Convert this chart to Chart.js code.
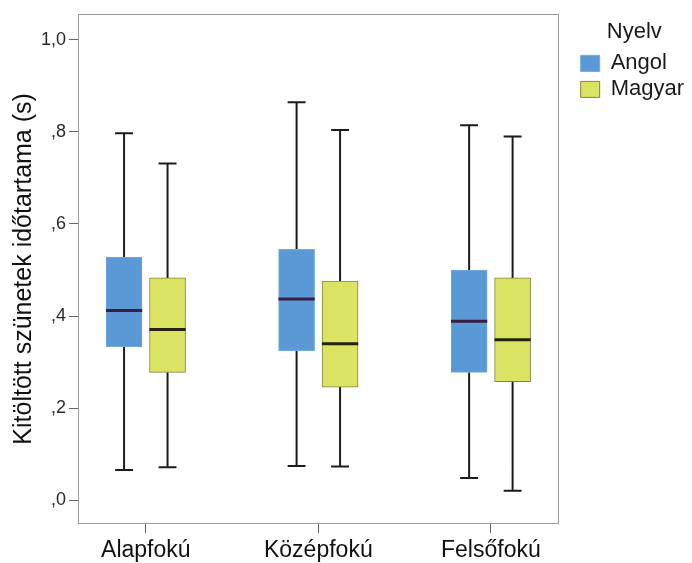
<!DOCTYPE html>
<html lang="hu">
<head>
<meta charset="utf-8">
<title>Kitöltött szünetek időtartama</title>
<script src="https://cdn.jsdelivr.net/npm/chart.js@4/dist/chart.umd.min.js"></script>
<style>
  html, body { margin: 0; padding: 0; background: #ffffff; }
  #wrap { width: 692px; height: 563px; }
</style>
</head>
<body>
<div id="wrap"><canvas id="chart" width="692" height="563"></canvas></div>
<script>
// Educational level groups on the x axis
const categories = ['Alapfokú', 'Középfokú', 'Felsőfokú'];

// Five-number summaries per language (seconds)
const angolMin    = [0.066, 0.075, 0.049];
const angolQ1     = [0.334, 0.325, 0.278];
const angolMedian = [0.412, 0.437, 0.389];
const angolQ3     = [0.528, 0.545, 0.500];
const angolMax    = [0.797, 0.864, 0.814];

const magyarMin    = [0.072, 0.074, 0.021];
const magyarQ1     = [0.278, 0.246, 0.258];
const magyarMedian = [0.371, 0.340, 0.349];
const magyarQ3     = [0.483, 0.476, 0.483];
const magyarMax    = [0.731, 0.804, 0.790];

// Value axis ticks and their labels
const yTicks      = [0, 0.2, 0.4, 0.6, 0.8, 1.0];
const yTickLabels = [',0', ',2', ',4', ',6', ',8', '1,0'];

// Layout in x-axis units (one unit = distance between groups)
const BOX_OFFSET = 0.126;
const HALF_BOX   = 0.105;
const HALF_CAP   = 0.052;

const FONT = "'Liberation Sans', Arial, Helvetica, sans-serif";
Chart.defaults.font.family = FONT;

const series = [
  { name: 'Angol',  min: angolMin,  q1: angolQ1,  med: angolMedian,  q3: angolQ3,  max: angolMax,
    fill: '#5a99d6', edge: '#74aade', medColor: '#3a1e42', shift: -BOX_OFFSET },
  { name: 'Magyar', min: magyarMin, q1: magyarQ1, med: magyarMedian, q3: magyarQ3, max: magyarMax,
    fill: '#dae462', edge: '#85853e', medColor: '#24230f', shift: BOX_OFFSET }
];

const gap = (x) => ({ x: x, y: null });

function whiskerPoints(s) {
  const pts = [];
  categories.forEach((c, i) => {
    const x = i + s.shift;
    pts.push({ x: x, y: s.q3[i] }, { x: x, y: s.max[i] }, gap(x));
    pts.push({ x: x - HALF_CAP, y: s.max[i] }, { x: x + HALF_CAP, y: s.max[i] }, gap(x));
    pts.push({ x: x, y: s.q1[i] }, { x: x, y: s.min[i] }, gap(x));
    pts.push({ x: x - HALF_CAP, y: s.min[i] }, { x: x + HALF_CAP, y: s.min[i] }, gap(x));
  });
  return pts;
}

function medianPoints(s) {
  const pts = [];
  categories.forEach((c, i) => {
    const x = i + s.shift;
    pts.push({ x: x - HALF_BOX, y: s.med[i] }, { x: x + HALF_BOX, y: s.med[i] }, gap(x));
  });
  return pts;
}

const datasets = [];
series.forEach((s) => {
  datasets.push({
    type: 'bar',
    label: s.name,
    data: categories.map((c, i) => ({ x: i + s.shift, y: [s.q1[i], s.q3[i]] })),
    backgroundColor: s.fill,
    borderColor: s.edge,
    borderWidth: 1,
    borderSkipped: false,
    barThickness: 36,
    grouped: false,
    order: 2
  });
});
series.forEach((s) => {
  datasets.push({
    type: 'line',
    label: s.name + ' terjedelem',
    data: whiskerPoints(s),
    borderColor: '#1c1c1c',
    borderWidth: 2,
    pointRadius: 0,
    spanGaps: false,
    fill: false,
    order: 3
  });
  datasets.push({
    type: 'line',
    label: s.name + ' medián',
    data: medianPoints(s),
    borderColor: s.medColor,
    borderWidth: 3,
    pointRadius: 0,
    spanGaps: false,
    fill: false,
    order: 0
  });
});

// Thin grey frame around the plotting area
const framePlugin = {
  id: 'plotFrame',
  beforeDatasetsDraw(chart) {
    const a = chart.chartArea;
    const ctx = chart.ctx;
    ctx.save();
    ctx.strokeStyle = '#9a9a9a';
    ctx.lineWidth = 1;
    ctx.strokeRect(Math.round(a.left) + 0.5, Math.round(a.top) + 0.5,
                   Math.round(a.right - a.left) - 1, Math.round(a.bottom - a.top) - 1);
    ctx.restore();
  }
};

new Chart(document.getElementById('chart'), {
  type: 'bar',
  data: { datasets: datasets },
  plugins: [framePlugin],
  options: {
    responsive: false,
    animation: false,
    events: [],
    layout: { padding: { top: 13, left: 0, right: 0, bottom: 0 } },
    plugins: {
      tooltip: { enabled: false },
      legend: {
        position: 'right',
        align: 'start',
        title: {
          display: true,
          text: 'Nyelv',
          color: '#1a1a1a',
          font: { size: 22 },
          padding: { top: 8, bottom: 1 }
        },
        labels: {
          boxWidth: 19,
          boxHeight: 16,
          padding: 4,
          color: '#1a1a1a',
          font: { size: 22 },
          filter: (item, data) => data.datasets[item.datasetIndex].type === 'bar'
        }
      }
    },
    scales: {
      x: {
        type: 'linear',
        min: -0.393,
        max: 2.393,
        offset: false,
        grid: { display: true, offset: false, drawOnChartArea: false, drawTicks: true,
                tickLength: 9, tickColor: '#666', tickWidth: 1 },
        border: { display: false },
        afterBuildTicks(scale) { scale.ticks = categories.map((c, i) => ({ value: i })); },
        ticks: {
          autoSkip: false,
          maxRotation: 0,
          padding: 4,
          color: '#111',
          font: { size: 23 },
          callback: (v) => categories[v]
        },
        afterFit(scale) { scale.height = 39; }
      },
      y: {
        type: 'linear',
        min: -0.051,
        max: 1.056,
        grid: { display: true, drawOnChartArea: false, drawTicks: true,
                tickLength: 9, tickColor: '#666', tickWidth: 1 },
        border: { display: false },
        afterBuildTicks(scale) { scale.ticks = yTicks.map((v) => ({ value: v })); },
        ticks: {
          autoSkip: false,
          padding: 3,
          color: '#2a2a2a',
          font: { size: 18 },
          callback: (v) => yTickLabels[yTicks.indexOf(v)]
        },
        title: {
          display: true,
          text: 'Kitöltött szünetek időtartama (s)',
          color: '#111',
          font: { size: 25 },
          padding: { top: 9, bottom: 0 }
        },
        afterFit(scale) { scale.width = 78; }
      },
      spacer: {
        type: 'linear',
        position: 'right',
        display: true,
        grid: { display: false, drawTicks: false },
        border: { display: false },
        ticks: { display: false },
        afterFit(scale) { scale.width = 18; }
      }
    }
  }
});
</script>
</body>
</html>
